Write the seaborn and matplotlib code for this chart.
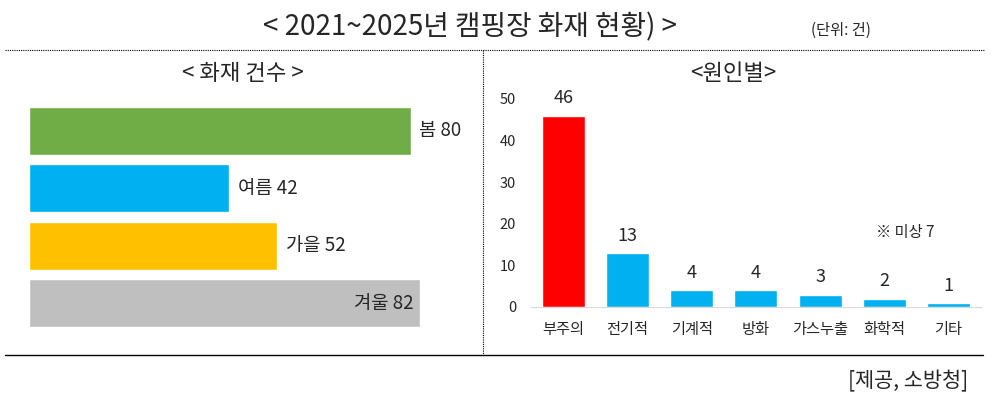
import matplotlib
matplotlib.use('Agg')
import matplotlib.pyplot as plt
from matplotlib.lines import Line2D
import seaborn as sns

seasons = ['봄', '여름', '가을', '겨울']
season_counts = [80, 42, 52, 82]
season_colors = ['#70AD47', '#00B0F0', '#FFC000', '#BFBFBF']

causes = ['부주의', '전기적', '기계적', '방화', '가스누출', '화학적', '기타']
cause_counts = [46, 13, 4, 4, 3, 2, 1]
cause_colors = ['#FF0000'] + ['#00B0F0'] * 6
unknown_note = '※ 미상 7'

sns.set_style('white')
plt.rcParams['font.family'] = ['Noto Sans CJK KR', 'DejaVu Sans']

fig = plt.figure(figsize=(9.91, 4.0), dpi=100)

# left: seasons
ax1 = fig.add_axes([0.0293, 0.17, 0.443, 0.575])
sns.barplot(x=season_counts, y=seasons, hue=seasons, palette=season_colors,
            orient='h', width=0.83, legend=False, ax=ax1, saturation=1)
ax1.set_xlim(0, 92)
ax1.set_ylim(3.5, -0.5)
for i, (s, v) in enumerate(zip(seasons, season_counts)):
    if i == len(seasons) - 1:
        ax1.text(v - 1.5, i, f'{s} {v}', ha='right', va='center', fontsize=13.5)
    else:
        ax1.text(v + 1.8, i, f'{s} {v}', ha='left', va='center', fontsize=13.5)
ax1.axis('off')

# right: causes
ax2 = fig.add_axes([0.5362, 0.2325, 0.4533, 0.52])
sns.barplot(x=causes, y=cause_counts, hue=causes, palette=cause_colors,
            width=0.67, legend=False, ax=ax2, saturation=1)
ax2.set_ylim(0, 50)
ax2.set_xlim(-0.5, 6.5)
ax2.set_yticks(range(0, 51, 10))
ax2.tick_params(axis='x', labelsize=11, length=0, pad=10)
ax2.tick_params(axis='y', labelsize=10.5, length=0, pad=11)
ax2.set_xlabel('')
ax2.set_ylabel('')
for sp in ['top', 'right', 'left']:
    ax2.spines[sp].set_visible(False)
ax2.spines['bottom'].set_color('#D9D9D9')
for i, v in enumerate(cause_counts):
    ax2.text(i, v + 2.0, str(v), ha='center', va='bottom', fontsize=13, clip_on=False)
ax2.text(5.33, 18, unknown_note, ha='center', va='center', fontsize=11)

# titles and frame lines
fig.text(0.474, 0.932, '< 2021~2025년 캠핑장 화재 현황) >', ha='center', va='center', fontsize=20)
fig.text(0.849, 0.925, '(단위: 건)', ha='center', va='center', fontsize=11)
fig.text(0.245, 0.817, '< 화재 건수 >', ha='center', va='center', fontsize=16)
fig.text(0.740, 0.817, '<원인별>', ha='center', va='center', fontsize=16)
fig.text(0.977, 0.047, '[제공, 소방청]', ha='right', va='center', fontsize=15)

dots = (0, (1, 1))
fig.add_artist(Line2D([0.005, 0.993], [0.875, 0.875], transform=fig.transFigure,
                      color='black', linestyle=dots, linewidth=0.8))
fig.add_artist(Line2D([0.487, 0.487], [0.875, 0.113], transform=fig.transFigure,
                      color='black', linestyle=dots, linewidth=0.8))
fig.add_artist(Line2D([0.005, 0.992], [0.112, 0.112], transform=fig.transFigure,
                      color='black', linewidth=1.0))

fig.savefig('out.png', dpi=100)
